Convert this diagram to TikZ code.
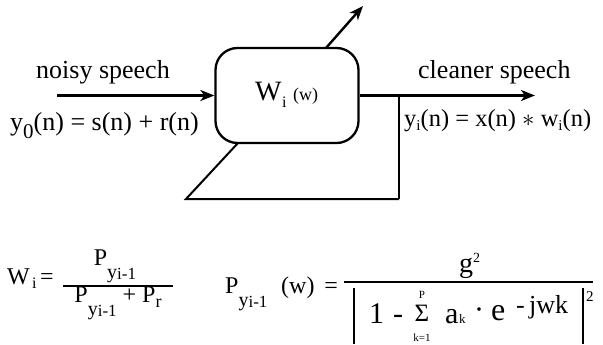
\documentclass[tikz,border=0pt]{standalone}
\usepackage{fontspec}
\setmainfont{Liberation Serif}
\usetikzlibrary{arrows.meta}
\newcommand{\fsz}[1]{\fontsize{#1}{#1}\selectfont}
\newcommand{\isub}{\raisebox{-3pt}{\fsz{15}i}}
\newcommand{\Pyi}{P\raisebox{-13pt}{\fsz{20}y\raisebox{-1pt}{\fsz{17}i-1}}}
\begin{document}
\begin{tikzpicture}[x=1pt,y=-1pt,
  lbl/.style={inner sep=0pt, anchor=base west, font=\fsz{26}},
  big/.style={inner sep=0pt, anchor=base west, font=\fsz{30}},
  frm/.style={inner sep=0pt, anchor=base west, font=\fsz{24}},
  tiny/.style={inner sep=0pt, anchor=base, font=\fsz{11}},
  arr/.style={line width=2.4pt, -{Stealth[length=14pt,width=11pt,inset=4pt]}},
  fbline/.style={line width=2pt, line join=miter},
  barline/.style={line width=2pt},
  fracline/.style={line width=1.3pt}]
\useasboundingbox (0,0) rectangle (603,345);

% block
\node[draw, line width=2.3pt, rounded corners=22pt, minimum width=143pt,
      minimum height=95pt, inner sep=0pt] (box) at (287,95.5) {};
\node[inner sep=0pt, anchor=base west, font=\fsz{28}] (W) at (255,100) {W};
\node[inner sep=0pt, anchor=base west, font=\fsz{16}] (Wsub) at (282,107) {i};
\node[inner sep=0pt, anchor=base west, font=\fsz{18}] (Ww) at (293,100) {(w)};

% input
\coordinate (in) at (57,95.5);
\draw[arr] (in) -- (box.west);
\node[lbl] (noisy) at (36,78) {noisy speech};
\node[lbl] (y0) at (10,130) {y\raisebox{-9pt}{\fsz{21}0}(n) = s(n) + r(n)};

% output
\coordinate (out) at (535,95.5);
\draw[arr] (box.east) -- (out);
\node[lbl] (clean) at (418,78) {cleaner speech};
\node[inner sep=0pt, anchor=base west, font=\fsz{24.5}] (yi) at (404,127)
     {y\isub(n) = x(n) $\ast$ w\isub(n)};

% adaptation arrow
\coordinate (dt) at (326,48);
\coordinate (dh) at (363,6);
\draw[arr] (dt) -- (dh);

% feedback
\coordinate (j) at (399,95.5);
\coordinate (fbr) at (399,199);
\coordinate (fbl) at (186,199);
\coordinate (fbt) at (238,143);
\draw[line width=1.6pt] (j) -- (fbr);
\draw[fbline] (fbr) -- (fbl) -- (fbt);

% formula 1
\node[inner sep=0pt, anchor=base west, font=\fsz{24}] (W1) at (7,284) {W};
\node[inner sep=0pt, anchor=base west, font=\fsz{16}] (W1i) at (32,288) {i};
\node[inner sep=0pt, anchor=base west, font=\fsz{24}] (eq1) at (40,284) {=};
\coordinate (f1a) at (63,286);
\coordinate (f1b) at (173,286);
\draw[fracline] (f1a) -- (f1b);
\node[inner sep=0pt, anchor=base, font=\fsz{24}] (num1) at (115,265) {\Pyi};
\node[inner sep=0pt, anchor=base, font=\fsz{24}] (den1) at (118,302)
     {\Pyi\ + P\raisebox{-5pt}{\fsz{18}r}};

% formula 2
\node[frm] (P2) at (225,293) {\Pyi};
\node[frm] (w2) at (281,293) {(w)\, =};
\coordinate (f2a) at (344,282);
\coordinate (f2b) at (593,282);
\draw[fracline] (f2a) -- (f2b);
\node[inner sep=0pt, anchor=base west, font=\fsz{28}] (g) at (459,272)
     {g\raisebox{10pt}{\fsz{14}2}};
\coordinate (b1t) at (354,288);
\coordinate (b1b) at (354,344);
\coordinate (b2t) at (583,288);
\coordinate (b2b) at (583,344);
\draw[barline] (b1t) -- (b1b);
\draw[barline] (b2t) -- (b2b);
\node[big] (one) at (369,323) {1};
\node[big] (minus) at (393,323) {-};
\node[inner sep=0pt, anchor=base, font=\fsz{25}] (sig) at (422,321) {Σ};
\node[tiny] (sigtop) at (422,298) {P};
\node[tiny] (sigbot) at (422,341) {k=1};
\node[big] (a) at (445,323) {a};
\node[inner sep=0pt, anchor=base west, font=\fsz{13}] (ak) at (459,323) {k};
\node[inner sep=0pt, anchor=center, font=\fsz{30}] (dot) at (479,314) {·};
\node[inner sep=0pt, anchor=base west, font=\fsz{32}] (e) at (491,320) {e};
\node[inner sep=0pt, anchor=base west, font=\fsz{26}] (jwk) at (516,313) {-\,jwk};
\node[inner sep=0pt, anchor=base west, font=\fsz{15}] (sq) at (586,301) {2};
\end{tikzpicture}
\end{document}
